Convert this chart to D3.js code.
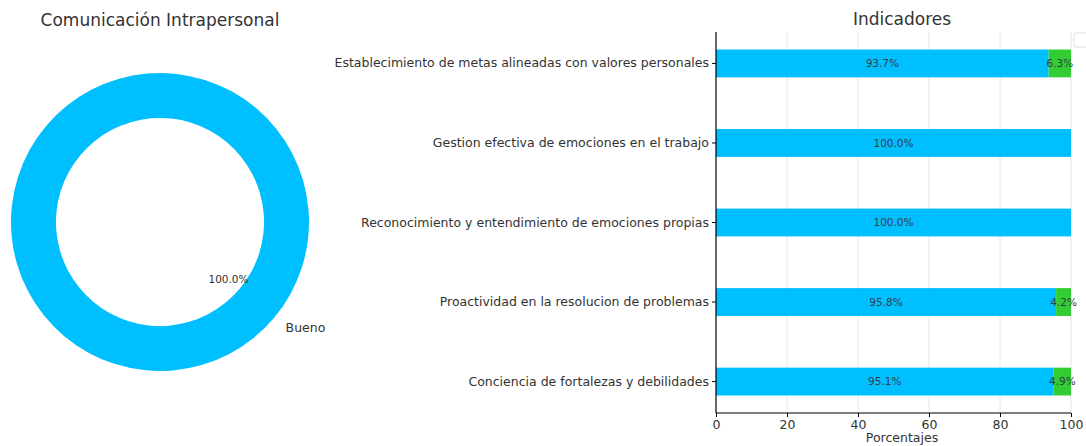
<!DOCTYPE html>
<html>
<head>
<meta charset="utf-8">
<script src="https://cdn.jsdelivr.net/npm/d3@7"></script>
<style>
  html, body { margin: 0; padding: 0; background: #fff; }
  svg { display: block; font-family: "DejaVu Sans", sans-serif; }
</style>
</head>
<body>
<svg id="chart" width="1086" height="446"></svg>
<script>
// Donut: overall rating for "Comunicación Intrapersonal"
const donutLabels = ["Bueno"];
const donutValues = [100.0];

// Stacked horizontal bars: share per indicator
const indicators = [
  "Establecimiento de metas alineadas con valores personales",
  "Gestion efectiva de emociones en el trabajo",
  "Reconocimiento y entendimiento de emociones propias",
  "Proactividad en la resolucion de problemas",
  "Conciencia de fortalezas y debilidades"
];
const seriesNames = ["Bueno", "Regular"];
const buenoValues = [93.7, 100.0, 100.0, 95.8, 95.1];
const regularValues = [6.3, 0.0, 0.0, 4.2, 4.9];
const xTicks = [0, 20, 40, 60, 80, 100];

const colors = { Bueno: "#00bfff", Regular: "#32cd32" };
const textColor = "#333";

const svg = d3.select("#chart");

// ---------- Donut ----------
const cx = 160, cy = 222, R = 149, r = 104;
const donut = svg.append("g").attr("transform", `translate(${cx},${cy})`);

svg.append("text")
  .attr("x", cx).attr("y", 26)
  .attr("text-anchor", "middle")
  .attr("font-size", 17)
  .attr("fill", textColor)
  .text("Comunicación Intrapersonal");

const start = -50 * Math.PI / 180;
const pie = d3.pie().sort(null).startAngle(start).endAngle(start + 2 * Math.PI);
const arcs = pie(donutValues);
const arc = d3.arc().innerRadius(r).outerRadius(R);

donut.selectAll("path.slice")
  .data(arcs)
  .join("path")
  .attr("class", "slice")
  .attr("d", arc)
  .attr("fill", (d, i) => colors[donutLabels[i]]);

const pctArc = d3.arc().innerRadius(R * 0.6).outerRadius(R * 0.6);
const lblArc = d3.arc().innerRadius(R * 1.1).outerRadius(R * 1.1);
const total = d3.sum(donutValues);

donut.selectAll("text.pct")
  .data(arcs)
  .join("text")
  .attr("class", "pct")
  .attr("transform", d => `translate(${pctArc.centroid(d)})`)
  .attr("text-anchor", "middle")
  .attr("dy", "0.35em")
  .attr("font-size", 10.5)
  .attr("fill", textColor)
  .text(d => (d.value / total * 100).toFixed(1) + "%");

donut.selectAll("text.lbl")
  .data(arcs)
  .join("text")
  .attr("class", "lbl")
  .attr("transform", d => `translate(${lblArc.centroid(d)})`)
  .attr("text-anchor", d => lblArc.centroid(d)[0] >= 0 ? "start" : "end")
  .attr("dy", "0.35em")
  .attr("font-size", 12.5)
  .attr("fill", textColor)
  .text((d, i) => donutLabels[i]);

// ---------- Stacked bars ----------
const plotL = 716, plotR = 1071, plotT = 32, plotB = 413;
const titleX = 902;

const x = d3.scaleLinear().domain([0, 100]).range([plotL, plotR]);
const y = d3.scaleBand().domain(indicators).range([plotT, plotB])
  .paddingInner(0.65).paddingOuter(0.22);

const bars = svg.append("g");

// vertical grid
bars.append("g")
  .selectAll("line")
  .data(xTicks.filter(t => t > 0))
  .join("line")
  .attr("x1", d => x(d)).attr("x2", d => x(d))
  .attr("y1", plotT).attr("y2", plotB)
  .attr("stroke", "#e6e6e6")
  .attr("stroke-width", 1);

const rows = indicators.map((name, i) => ({
  name, Bueno: buenoValues[i], Regular: regularValues[i]
}));
const stacked = d3.stack().keys(seriesNames)(rows);

const layers = bars.append("g")
  .selectAll("g")
  .data(stacked)
  .join("g")
  .attr("fill", d => colors[d.key]);

layers.selectAll("rect")
  .data(d => d.filter(s => s[1] - s[0] > 0))
  .join("rect")
  .attr("x", d => x(d[0]))
  .attr("width", d => x(d[1]) - x(d[0]))
  .attr("y", d => y(d.data.name))
  .attr("height", y.bandwidth());

// value labels centred in each segment
stacked.forEach(layer => {
  bars.append("g")
    .selectAll("text")
    .data(layer.filter(s => s[1] - s[0] > 0))
    .join("text")
    .attr("x", d => x((d[0] + d[1]) / 2))
    .attr("y", d => y(d.data.name) + y.bandwidth() / 2)
    .attr("dy", "0.35em")
    .attr("text-anchor", "middle")
    .attr("font-size", 10.5)
    .attr("fill", "#333d47")
    .text(d => (d[1] - d[0]).toFixed(1) + "%");
});

// axes
const xAxis = bars.append("g")
  .attr("transform", `translate(0,${plotB})`)
  .call(d3.axisBottom(x).tickValues(xTicks).tickFormat(d3.format("d")).tickSize(4).tickPadding(3));
const yAxis = bars.append("g")
  .attr("transform", `translate(${plotL},0)`)
  .call(d3.axisLeft(y).tickSize(4).tickPadding(3));

[xAxis, yAxis].forEach(g => {
  g.select(".domain").attr("stroke", "#000").attr("stroke-width", 1.2);
  g.selectAll(".tick line").attr("stroke", "#000");
  g.selectAll(".tick text").attr("font-size", 12.5).attr("fill", textColor)
    .attr("font-family", "DejaVu Sans, sans-serif");
});
xAxis.select(".domain").attr("d", `M${plotL},0H${plotR}`);
yAxis.select(".domain").attr("d", `M0,${plotT}V${plotB}`);

// legend frame edge at the top-right corner
svg.append("rect")
  .attr("x", 1074).attr("y", 33)
  .attr("width", 40).attr("height", 14)
  .attr("rx", 2)
  .attr("fill", "#fff")
  .attr("stroke", "#dcdcdc");

// titles
svg.append("text")
  .attr("x", titleX).attr("y", 25)
  .attr("text-anchor", "middle")
  .attr("font-size", 17)
  .attr("fill", textColor)
  .text("Indicadores");

svg.append("text")
  .attr("x", titleX).attr("y", 442)
  .attr("text-anchor", "middle")
  .attr("font-size", 12.5)
  .attr("fill", textColor)
  .text("Porcentajes");
</script>
</body>
</html>
